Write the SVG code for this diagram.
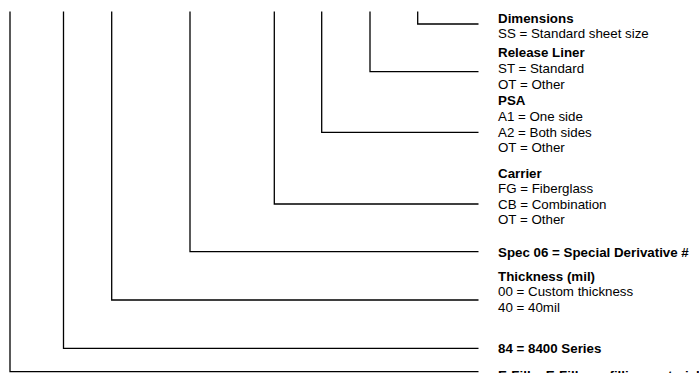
<svg xmlns="http://www.w3.org/2000/svg" width="699" height="373" viewBox="0 0 699 373">
<style>
.c{fill:none;stroke:#000;stroke-width:1.3}
text{font-family:"Liberation Sans",Arial,sans-serif;font-size:13.33px;fill:#000}
.b{font-weight:bold}
</style>
<rect width="699" height="373" fill="#fff"/>
<g id="connectors">
<path class="c" d="M417.7 11.5V24H478.5"/>
<path class="c" d="M370 11.5V71.7H478.5"/>
<path class="c" d="M321.7 11.5V132.3H478.5"/>
<path class="c" d="M274.3 11.5V204H478.5"/>
<path class="c" d="M190 11.5V251.7H478.5"/>
<path class="c" d="M111.7 11.5V300H478.5"/>
<path class="c" d="M63.5 11.5V348.3H478.5"/>
<path class="c" d="M10 11.5V371.7H478.5"/>
</g>
<g id="dimensions">
<text class="b" x="498" y="22.5">Dimensions</text>
<text x="498" y="38">SS = Standard sheet size</text>
</g>
<g id="release-liner">
<text class="b" x="498" y="56.8">Release Liner</text>
<text x="498" y="72.8">ST = Standard</text>
<text x="498" y="88.8">OT = Other</text>
</g>
<g id="psa">
<text class="b" x="498" y="104.8">PSA</text>
<text x="498" y="120.8">A1 = One side</text>
<text x="498" y="136.6">A2 = Both sides</text>
<text x="498" y="152.2">OT = Other</text>
</g>
<g id="carrier">
<text class="b" x="498" y="177.5">Carrier</text>
<text x="498" y="193">FG = Fiberglass</text>
<text x="498" y="208.5">CB = Combination</text>
<text x="498" y="224">OT = Other</text>
</g>
<g id="spec">
<text class="b" x="498" y="257">Spec 06 = Special Derivative #</text>
</g>
<g id="thickness">
<text class="b" x="498" y="280.5">Thickness (mil)</text>
<text x="498" y="296">00 = Custom thickness</text>
<text x="498" y="311.5">40 = 40mil</text>
</g>
<g id="series">
<text class="b" x="498" y="352.6">84 = 8400 Series</text>
</g>
<g id="efill">
<text class="b" x="498" y="379.6">E-Fill = E-Fill gap filling material</text>
</g>
</svg>
